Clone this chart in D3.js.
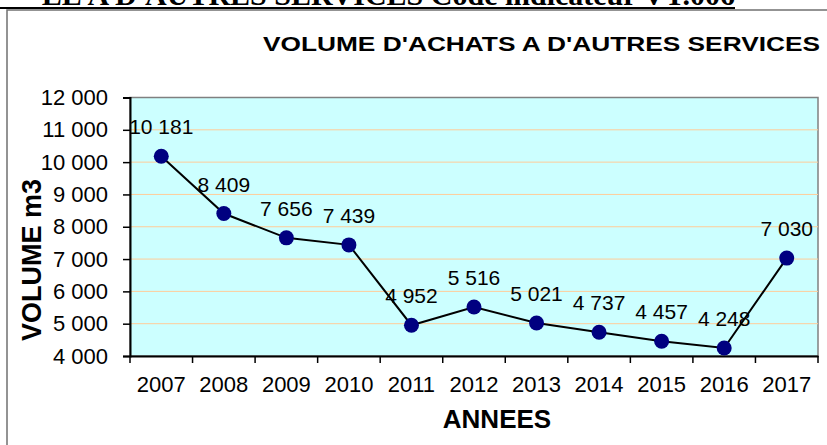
<!DOCTYPE html>
<html>
<head>
<meta charset="utf-8">
<script src="https://cdn.jsdelivr.net/npm/d3@7"></script>
<style>
  body { margin: 0; background: #fff; }
  svg { display: block; }
</style>
</head>
<body>
<div id="chart"></div>
<script>
const years = ['2007', '2008', '2009', '2010', '2011', '2012', '2013', '2014', '2015', '2016', '2017'];
const volumes = [10181, 8409, 7656, 7439, 4952, 5516, 5021, 4737, 4457, 4248, 7030];
const yTicks = [4000, 5000, 6000, 7000, 8000, 9000, 10000, 11000, 12000];

const width = 827;
const height = 445;
const plot = { left: 130, right: 818, top: 97.5, bottom: 356 };

const fmt = v => d3.format(',')(v).replace(/,/g, ' ');

const svg = d3.select('#chart')
  .append('svg')
  .attr('width', width)
  .attr('height', height)
  .style('font-family', 'Arial, "Liberation Sans", sans-serif');

// heading of the page, cut off at the top
svg.append('text')
  .attr('x', 735)
  .attr('y', 5)
  .attr('text-anchor', 'end')
  .attr('font-family', '"Times New Roman", "Liberation Serif", serif')
  .attr('font-weight', 'bold')
  .attr('font-size', 30)
  .text("LE A D'AUTRES SERVICES Code indicateur VT.006");
svg.append('line')
  .attr('x1', 0).attr('x2', 735)
  .attr('y1', 8).attr('y2', 8)
  .attr('stroke', '#000').attr('stroke-width', 2);

// chart frame
svg.append('rect')
  .attr('x', 7).attr('y', 10)
  .attr('width', 840).attr('height', 460)
  .attr('fill', 'none')
  .attr('stroke', '#707070')
  .attr('stroke-width', 1.5);

const x = d3.scaleBand()
  .domain(years)
  .range([plot.left, plot.right])
  .padding(0);

const y = d3.scaleLinear()
  .domain([4000, 12000])
  .range([plot.bottom, plot.top]);

// plot area
svg.append('rect')
  .attr('x', plot.left).attr('y', plot.top)
  .attr('width', plot.right - plot.left)
  .attr('height', plot.bottom - plot.top)
  .attr('fill', '#ccffff')
  .attr('stroke', '#808080')
  .attr('stroke-width', 1.5);

svg.append('g')
  .selectAll('line')
  .data(yTicks.slice(1, -1))
  .join('line')
    .attr('x1', plot.left).attr('x2', plot.right)
    .attr('y1', d => y(d)).attr('y2', d => y(d))
    .attr('stroke', '#ffcc99')
    .attr('stroke-width', 1);

// y axis
const yAxis = svg.append('g')
  .attr('transform', `translate(${plot.left},0)`)
  .call(d3.axisLeft(y).tickValues(yTicks).tickSize(7).tickPadding(15).tickFormat(fmt));
yAxis.select('.domain').attr('stroke', '#000').attr('stroke-width', 2);
yAxis.selectAll('.tick line').attr('stroke', '#000').attr('stroke-width', 1.5);
yAxis.selectAll('text')
  .attr('font-size', 22)
  .attr('font-family', 'Arial, "Liberation Sans", sans-serif')
  .attr('fill', '#000');

// x axis
const xAxis = svg.append('g')
  .attr('transform', `translate(0,${plot.bottom})`)
  .call(d3.axisBottom(x).tickSize(0).tickPadding(20));
xAxis.select('.domain').attr('stroke', '#000').attr('stroke-width', 2);
xAxis.selectAll('text')
  .attr('font-size', 22)
  .attr('font-family', 'Arial, "Liberation Sans", sans-serif')
  .attr('fill', '#000');
xAxis.selectAll('.between')
  .data(years.concat(['end']))
  .join('line')
    .attr('class', 'between')
    .attr('x1', (d, i) => plot.left + i * x.step())
    .attr('x2', (d, i) => plot.left + i * x.step())
    .attr('y1', 0).attr('y2', 7)
    .attr('stroke', '#000')
    .attr('stroke-width', 1.5);

const cx = d => x(d) + x.bandwidth() / 2;

// line and markers
svg.append('path')
  .datum(volumes)
  .attr('fill', 'none')
  .attr('stroke', '#000')
  .attr('stroke-width', 2)
  .attr('d', d3.line().x((d, i) => cx(years[i])).y(d => y(d)));

svg.append('g')
  .attr('fill', '#000080')
  .selectAll('circle')
  .data(volumes)
  .join('circle')
    .attr('cx', (d, i) => cx(years[i]))
    .attr('cy', d => y(d))
    .attr('r', 7.5);

svg.append('g')
  .attr('font-size', 21)
  .attr('text-anchor', 'middle')
  .selectAll('text')
  .data(volumes)
  .join('text')
    .attr('x', (d, i) => cx(years[i]))
    .attr('y', d => y(d) - 22)
    .text(fmt);

// titles
svg.append('text')
  .attr('x', 263)
  .attr('y', 51)
  .attr('font-weight', 'bold')
  .attr('font-size', 21)
  .attr('textLength', 557)
  .attr('lengthAdjust', 'spacingAndGlyphs')
  .text("VOLUME D'ACHATS A D'AUTRES SERVICES");

svg.append('text')
  .attr('x', 497)
  .attr('y', 428)
  .attr('text-anchor', 'middle')
  .attr('font-weight', 'bold')
  .attr('font-size', 26)
  .text('ANNEES');

svg.append('text')
  .attr('transform', 'translate(41,260) rotate(-90)')
  .attr('text-anchor', 'middle')
  .attr('font-weight', 'bold')
  .attr('font-size', 27)
  .text('VOLUME m3');
</script>
</body>
</html>
